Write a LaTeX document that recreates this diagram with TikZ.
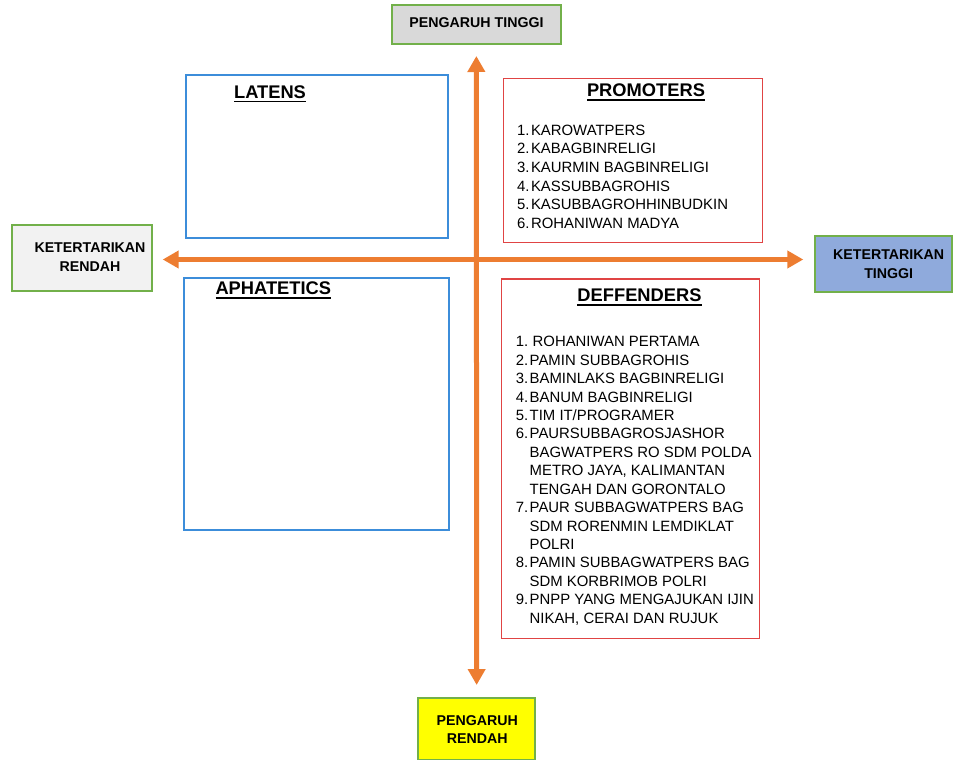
\documentclass[tikz,border=0pt]{standalone}
\usepackage{fontspec}
\setmainfont{Liberation Sans}
\usetikzlibrary{arrows.meta}
\definecolor{axisor}{HTML}{ED7D31}
\definecolor{lblgreen}{HTML}{72B04A}
\definecolor{qblue}{HTML}{3C8DDA}
\definecolor{qred}{HTML}{E04444}
\definecolor{fillgray}{HTML}{D9D9D9}
\definecolor{filllight}{HTML}{F2F2F2}
\definecolor{fillblue}{HTML}{8FAADC}
\definecolor{fillyellow}{HTML}{FFFF00}
\newcommand{\numitem}[2]{\makebox[13.8pt][l]{#1}#2}
\newcommand{\contline}[1]{\hspace*{13.8pt}#1}
\newcommand{\ultitle}[1]{\setbox0\hbox{#1}\rlap{\rule[-4.2pt]{\wd0}{1.6pt}}\box0}
\begin{document}
\begin{tikzpicture}[x=1pt,y=-1pt,
  quad/.style={draw, line width=1.4pt, inner sep=0pt, outer sep=0pt},
  lbl/.style={draw=lblgreen, line width=2pt, inner sep=0pt, outer sep=0pt},
  lbltext/.style={font=\fontsize{14.2}{18.4}\selectfont\bfseries, align=center, inner sep=0pt},
  qtitle/.style={font=\fontsize{18.3}{22}\selectfont\bfseries, inner sep=0pt, anchor=base},
  qlist/.style={align=left, inner sep=0pt, anchor=north west},
  axis/.style={draw=axisor, line width=5pt, {Triangle[length=16pt,width=17pt]}-{Triangle[length=16pt,width=17pt]}}
]
\useasboundingbox (0,0) rectangle (954,760);

% label boxes
\node[lbl, fill=fillgray, minimum width=169.3pt, minimum height=39.3pt] (top) at (476.35,24.65) {};
\node[lbltext] (topt) at (476.5,23) {PENGARUH TINGGI};
\node[lbl, fill=filllight, minimum width=140pt, minimum height=66pt] (left) at (81.7,258) {};
\node[lbltext] (leftt) at (90,257) {KETERTARIKAN\\RENDAH};
\node[lbl, fill=fillblue, minimum width=136.7pt, minimum height=56pt] (right) at (883.35,263.7) {};
\node[lbltext] (rightt) at (888.7,264) {KETERTARIKAN\\TINGGI};
\node[lbl, fill=fillyellow, minimum width=116.7pt, minimum height=61.7pt] (bottom) at (476.65,729.15) {};
\node[lbltext] (bottomt) at (477.3,729.5) {PENGARUH\\RENDAH};

% quadrant boxes
\node[quad, draw=qblue, minimum width=262pt, minimum height=163pt] (latens) at (317,156.5) {};
\node[quad, draw=qred, minimum width=259pt, minimum height=164.4pt] (promoters) at (632.8,160.5) {};
\node[quad, draw=qblue, minimum width=265pt, minimum height=252pt] (aphatetics) at (316.5,404) {};
\node[quad, draw=qred, minimum width=257.6pt, minimum height=359.3pt] (deffenders) at (630.5,458.65) {};

% titles
\node[qtitle] (latenst) at (270,98.3) {\ultitle{LATENS}};
\node[qtitle] (promoterst) at (646,96.7) {\ultitle{PROMOTERS}};
\node[qtitle] (aphateticst) at (273.3,294.7) {\ultitle{APHATETICS}};
\node[qtitle] (deffenderst) at (639.5,301.7) {\ultitle{DEFFENDERS}};

% lists
\node[qlist, font=\fontsize{14.9}{18.67}\selectfont] (promlist) at (517,124.4) {%
\numitem{1.}{KAROWATPERS}\\
\numitem{2.}{KABAGBINRELIGI}\\
\numitem{3.}{KAURMIN BAGBINRELIGI}\\
\numitem{4.}{KASSUBBAGROHIS}\\
\numitem{5.}{KASUBBAGROHHINBUDKIN}\\
\numitem{6.}{ROHANIWAN MADYA}};

\node[qlist, font=\fontsize{14.9}{18.44}\selectfont] (deflist) at (515.7,336.1) {%
\numitem{1.}{\hspace{3pt}ROHANIWAN PERTAMA}\\
\numitem{2.}{PAMIN SUBBAGROHIS}\\
\numitem{3.}{BAMINLAKS BAGBINRELIGI}\\
\numitem{4.}{BANUM BAGBINRELIGI}\\
\numitem{5.}{TIM IT/PROGRAMER}\\
\numitem{6.}{PAURSUBBAGROSJASHOR}\\
\contline{BAGWATPERS RO SDM POLDA}\\
\contline{METRO JAYA, KALIMANTAN}\\
\contline{TENGAH DAN GORONTALO}\\
\numitem{7.}{PAUR SUBBAGWATPERS BAG}\\
\contline{SDM RORENMIN LEMDIKLAT}\\
\contline{POLRI}\\
\numitem{8.}{PAMIN SUBBAGWATPERS BAG}\\
\contline{SDM KORBRIMOB POLRI}\\
\numitem{9.}{PNPP YANG MENGAJUKAN IJIN}\\
\contline{NIKAH, CERAI DAN RUJUK}};

% axes
\coordinate (centre) at (476.5,259.5);
\draw[axis, shorten <=11.7pt, shorten >=13.3pt] (top.south) -- (bottom.north);
\draw[axis, shorten <=11pt, shorten >=11.7pt] (left.east |- centre) -- (right.west |- centre);
\end{tikzpicture}
\end{document}
